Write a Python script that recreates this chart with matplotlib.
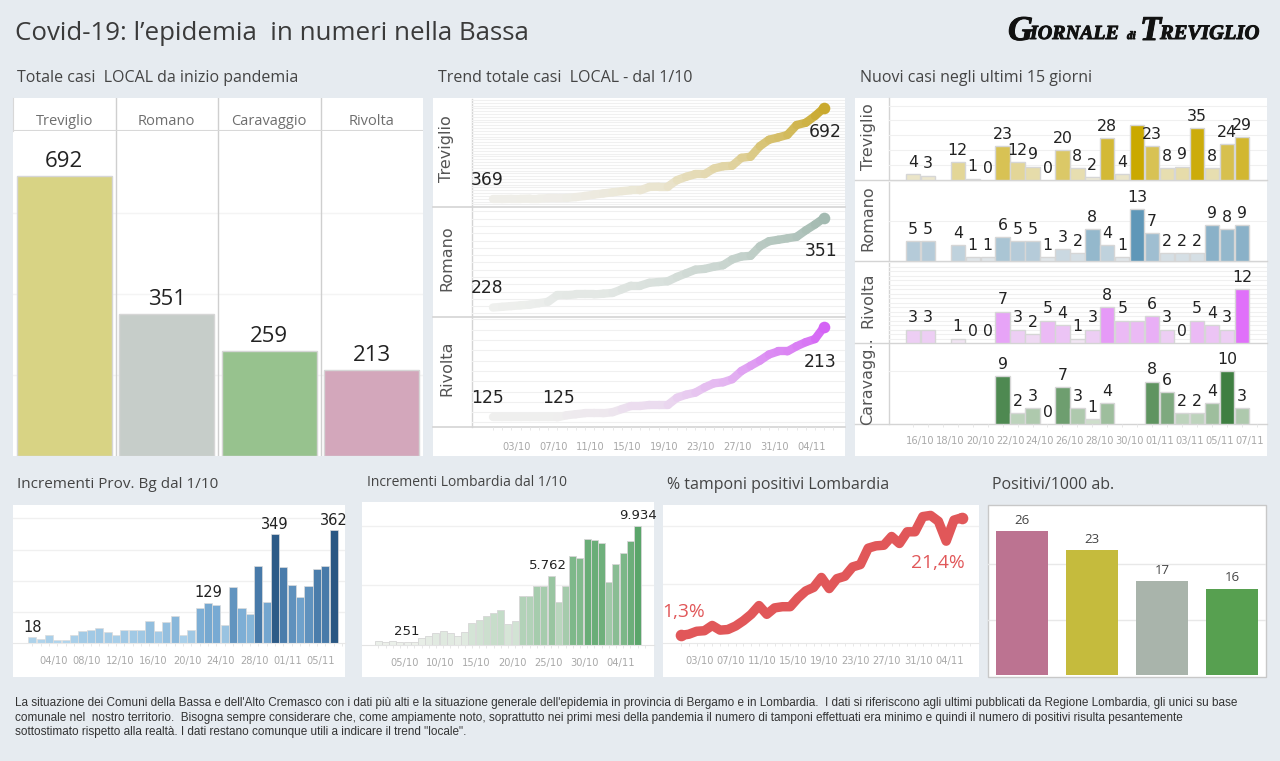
import matplotlib
matplotlib.use("Agg")
import matplotlib.pyplot as plt
import matplotlib.patheffects as pe
from matplotlib.collections import LineCollection
from matplotlib.colors import LinearSegmentedColormap, Normalize
from matplotlib.patches import Rectangle
import numpy as np

W, H = 1280, 761
BG = "#e6ebf0"
GRID = "#f0f0f0"
TICK = "#a8a8a8"
DARK = "#222222"

# totale casi
comuni = ["Treviglio", "Romano", "Caravaggio", "Rivolta"]
totali = [692, 351, 259, 213]
col_totali = ["#d8d384", "#c6cdc9", "#97c28e", "#d3a7bb"]

# trend dal 1/10 (37 giorni)
trend_treviglio = [369, 369, 370, 370, 371, 371, 372, 372, 373, 376, 380, 385, 389, 393, 397, 400, 400,
                   412, 413, 413, 436, 448, 457, 457, 477, 485, 487, 515, 519, 556, 579, 587, 596, 631,
                   639, 663, 692]
trend_romano = [228, 229, 230, 231, 232, 234, 236, 245, 245, 246, 246, 246, 247, 248, 253, 258, 258, 262,
                263, 264, 270, 275, 280, 281, 284, 286, 294, 298, 299, 312, 319, 321, 323, 325, 334,
                342, 351]
trend_rivolta = [125, 125, 125, 125, 125, 125, 125, 125, 127, 128, 129, 129, 129, 130, 133, 136, 136, 137,
                 137, 137, 144, 147, 149, 154, 158, 159, 162, 170, 175, 180, 186, 189, 189, 194, 198,
                 201, 213]
trend_labels = ["03/10", "07/10", "11/10", "15/10", "19/10", "23/10", "27/10", "31/10", "04/11"]

# nuovi casi ultimi giorni
nuovi_date = ["16/10", "18/10", "20/10", "22/10", "24/10", "26/10", "28/10", "30/10", "01/11", "03/11",
              "05/11", "07/11"]
nuovi_treviglio = [4, 3, None, 12, 1, 0, 23, 12, 9, 0, 20, 8, 2, 28, 4, 37, 23, 8, 9, 35, 8, 24, 29]
nuovi_romano = [5, 5, None, 4, 1, 1, 6, 5, 5, 1, 3, 2, 8, 4, 1, 13, 7, 2, 2, 2, 9, 8, 9]
nuovi_rivolta = [3, 3, None, 1, 0, 0, 7, 3, 2, 5, 4, 1, 3, 8, 5, 5, 6, 3, 0, 5, 4, 3, 12]
nuovi_caravaggio = [None, None, None, None, None, None, 9, 2, 3, 0, 7, 3, 1, 4, None, None, 8, 6, 2, 2, 4,
                    10, 3]

# province / regione
inc_bg = [18, 14, 25, 11, 11, 25, 39, 41, 48, 34, 27, 43, 41, 43, 70, 37, 67, 88, 25, 43, 112, 129, 122,
          57, 180, 112, 92, 248, 133, 349, 243, 187, 147, 184, 239, 248, 362]
inc_bg_labels = ["04/10", "08/10", "12/10", "16/10", "20/10", "24/10", "28/10", "01/11", "05/11"]
inc_lomb = [335, 280, 335, 280, 251, 280, 560, 750, 980, 1145, 980, 750, 1060, 1840, 2070, 2430, 2710,
            2900, 1730, 1980, 4100, 4100, 4915, 4915, 5762, 3575, 4970, 7490, 7290, 8910, 8830, 8575,
            5280, 6790, 7680, 8740, 9934]
inc_lomb_labels = ["05/10", "10/10", "15/10", "20/10", "25/10", "30/10", "04/11"]
tamponi = [1.3, 1.5, 2.0, 2.1, 3.0, 2.2, 2.3, 2.9, 3.8, 4.9, 6.4, 4.9, 6.0, 6.2, 6.2, 7.7, 8.9, 9.5, 11.2,
           9.3, 11.0, 11.4, 13.0, 13.4, 16.2, 16.6, 16.7, 18.2, 17.0, 19.0, 19.0, 21.6, 21.8, 20.8, 17.4,
           21.0, 21.4]
tamponi_labels = ["03/10", "07/10", "11/10", "15/10", "19/10", "23/10", "27/10", "31/10", "04/11"]
positivi = [26.0, 22.6, 16.9, 15.6]
col_positivi = ["#bc7391", "#c5bb3d", "#a9b4ab", "#57a050"]

note = ["La situazione dei Comuni della Bassa e dell'Alto Cremasco con i dati più alti e la situazione generale dell'epidemia in provincia di Bergamo e in Lombardia.  I dati si riferiscono agli ultimi pubblicati da Regione Lombardia, gli unici su base",
        "comunale nel  nostro territorio.  Bisogna sempre considerare che, come ampiamente noto, soprattutto nei primi mesi della pandemia il numero di tamponi effettuati era minimo e quindi il numero di positivi risulta pesantemente",
        "sottostimato rispetto alla realtà. I dati restano comunque utili a indicare il trend \"locale\"."]


def ax_px(l, t, r, b):
    ax = fig.add_axes([l / W, 1 - b / H, (r - l) / W, (b - t) / H])
    ax.patch.set_alpha(0)
    for s in ax.spines.values():
        s.set_visible(False)
    ax.tick_params(axis="y", left=False, labelleft=False)
    ax.tick_params(axis="x", bottom=False, labelbottom=False)
    return ax


def ticks_x(ax, pos, labels, pad, n):
    ax.set_xticks(pos)
    ax.set_xticklabels(labels, fontsize=7.1, color=TICK)
    ax.tick_params(axis="x", bottom=False, labelbottom=True, pad=pad)
    ax.set_xticks(np.arange(n), minor=True)
    ax.tick_params(axis="x", which="minor", bottom=True, length=2.5, color="#e8e8e8", width=0.7)


def grad(*colori):
    return LinearSegmentedColormap.from_list("g", list(colori))


fig = plt.figure(figsize=(W / 100, H / 100), dpi=100, facecolor=BG)
bg = fig.add_axes([0, 0, 1, 1])
bg.set_xlim(0, W)
bg.set_ylim(H, 0)
bg.axis("off")

# pannelli bianchi
for l, t, r, b in [(13, 98, 423, 456), (433, 98, 845, 456), (855, 98, 1267, 456), (13, 505, 345, 677),
                   (362, 502, 654, 677), (663, 505, 979, 677)]:
    bg.add_patch(Rectangle((l, t), r - l, b - t, fc="white", ec="none"))
bg.add_patch(Rectangle((988, 505), 278, 172, fc="white", ec="#c8c8c8", lw=1))

# titoli
bg.text(15, 34, "Covid-19: l’epidemia  in numeri nella Bassa", fontsize=18.6, family="Open Sans",
        color="#3a3a3a", va="center")
for x, y, s, fs in [(17, 78, "Totale casi  LOCAL da inizio pandemia", 11.5),
                    (438, 78, "Trend totale casi  LOCAL - dal 1/10", 11.5),
                    (860, 78, "Nuovi casi negli ultimi 15 giorni", 11.5),
                    (17, 485, "Incrementi Prov. Bg dal 1/10", 11),
                    (367, 483, "Incrementi Lombardia dal 1/10", 10),
                    (667, 485, "% tamponi positivi Lombardia", 11.5),
                    (992, 485, "Positivi/1000 ab.", 11.5)]:
    bg.text(x, y, s, fontsize=fs, family="Open Sans", color="#444444", va="center")

# testata
logo = dict(family="Liberation Serif", weight="bold", style="italic", color="#111111", va="baseline",
            path_effects=[pe.withStroke(linewidth=0.7, foreground="#111111")])
bg.text(1008, 40, "G", fontsize=25, **logo)
bg.text(1030, 39, "IORNALE", fontsize=14.4, **logo)
bg.text(1127, 39, "di", fontsize=8, **logo)
bg.text(1140, 40, "T", fontsize=25, **logo)
bg.text(1160, 39, "REVIGLIO", fontsize=14.8, **logo)

# nota
for i, riga in enumerate(note):
    bg.text(15, 703 + i * 14.7, riga, fontsize=8.5, family="Liberation Sans", color="#333333", va="center")

# --- totale casi
ax = ax_px(13, 131, 423, 456)
ax.set_xlim(-0.5, 3.5)
ax.set_ylim(0, 325 / 0.4046)
ax.set_axisbelow(True)
ax.set_yticks([200, 400, 600])
ax.grid(axis="y", color="#f4f4f4", lw=1)
ax.bar(range(4), totali, width=0.93, color=col_totali, edgecolor="#d6d6d6", lw=1)
for i, v in enumerate(totali):
    ax.annotate(str(v), (i, v), xytext=(0, 3), textcoords="offset points", ha="center", va="bottom",
                fontsize=16, family="Open Sans", color=DARK)
for x in [0.5, 1.5, 2.5]:
    ax.axvline(x, color="#cfcfcf", lw=1)
head = ax_px(13, 98, 423, 131)
head.set_xlim(-0.5, 3.5)
head.set_ylim(0, 1)
for i, c in enumerate(comuni):
    head.text(i, 0.28, c, ha="center", va="center", fontsize=10.5, family="Open Sans", color="#6e6e6e")
for x in [0.5, 1.5, 2.5]:
    head.axvline(x, color="#cfcfcf", lw=1)
head.axhline(0, color="#d8d8d8", lw=1.5)
head.spines["left"].set_visible(True)
head.spines["left"].set_color("#d8d8d8")

# --- trend
righe = [("Treviglio", trend_treviglio, (99, 207), (341, 723), 10, "#efeee9", "#c9a92e", (1, -24)),
         ("Romano", trend_romano, (207, 317), (215, 366), 10, "#eff0ee", "#a3bab1", (-2, -30)),
         ("Rivolta", trend_rivolta, (317, 427), (115.6, 222.4), 10, "#efefee", "#d463f5", (-3, -32))]
giorni = np.arange(len(trend_treviglio))
for nome, serie, (t, b), ylim, passo, chiaro, scuro, off in righe:
    ax = ax_px(472, t, 845, b)
    ax.set_xlim(-2.28, 38.26)
    ax.set_ylim(*ylim)
    ax.set_axisbelow(True)
    ax.set_yticks(np.arange(np.ceil(ylim[0] / passo) * passo, ylim[1], passo))
    ax.grid(axis="y", color=GRID, lw=0.8)
    s = np.array(serie, dtype=float)
    pts = np.column_stack([giorni, s])
    segs = np.stack([pts[:-1], pts[1:]], axis=1)
    lc = LineCollection(segs, cmap=grad(chiaro, scuro), norm=Normalize(s.min(), s.max()), linewidths=6,
                        capstyle="round", joinstyle="round")
    lc.set_array((s[:-1] + s[1:]) / 2)
    ax.add_collection(lc)
    ax.scatter(giorni[-1], s[-1], s=70, color=scuro, zorder=3, lw=0)
    ax.annotate(str(serie[0]), (0, serie[0]), xytext=(-4, 10.5), textcoords="offset points", ha="center",
                fontsize=12.3, color=DARK)
    ax.annotate(str(serie[-1]), (36, serie[-1]), xytext=off, textcoords="offset points", ha="center",
                va="bottom", fontsize=12.3, color=DARK)
    bg.text(447, (t + b) / 2 - 4, nome, rotation=90, ha="center", va="center", fontsize=11.5, color="#555555")
    bg.plot([433, 845], [b, b], color="#d4d4d4", lw=1.2)
    if nome == "Rivolta":
        ax.annotate("125", (7, 125), xytext=(1, 10.5), textcoords="offset points", ha="center",
                    fontsize=12.3, color=DARK)
        ticks_x(ax, np.arange(2, 35, 4) + 0.6, trend_labels, 7, 38)
bg.plot([472, 472], [99, 427], color="#d4d4d4", lw=1)

# --- nuovi casi
righe = [("Treviglio", nuovi_treviglio, (98, 180), 82 / 1.49, 10, "#efece0", "#caa900", {15}),
         ("Romano", nuovi_romano, (180, 261), 81 / 4, 10, "#eaeced", "#5f97b8", set()),
         ("Rivolta", nuovi_rivolta, (261, 343), 82 / 4.5, 1, "#f2eef2", "#e070fa", {15}),
         ("Caravagg..", nuovi_caravaggio, (343, 424), 81 / 5.3, 10, "#dde8da", "#3f7f42", set())]
for nome, serie, (t, b), ymax, passo, chiaro, scuro, nascosti in righe:
    ax = ax_px(889, t, 1267, b)
    ax.set_xlim(-1.6, 23.68)
    ax.set_ylim(0, ymax)
    ax.set_axisbelow(True)
    ax.set_yticks(np.arange(passo, ymax, passo))
    ax.grid(axis="y", color=GRID, lw=0.8)
    cm = grad(chiaro, scuro)
    vmax = max(v for v in serie if v is not None)
    for i, v in enumerate(serie):
        if v is None:
            continue
        if v > 0:
            ax.bar(i, v, width=0.96, color=cm(v / vmax), edgecolor="#d6d6d6", lw=1)
        if i not in nascosti:
            ax.annotate(str(v), (i, v), xytext=(0, 3), textcoords="offset points", ha="center", va="bottom",
                        fontsize=11.3, color=DARK, annotation_clip=False)
    bg.text(868, (t + b) / 2 - 2, nome, rotation=90, ha="center", va="center", fontsize=11.5, color="#555555")
    bg.plot([855, 1267], [b, b], color="#d4d4d4", lw=1)
    if nome.startswith("Carav"):
        ticks_x(ax, np.arange(0, 23, 2) + 0.5, nuovi_date, 5.5, 24)
bg.plot([889, 889], [98, 424], color="#d4d4d4", lw=1)

# --- incrementi Bg
ax = ax_px(13, 505, 345, 643)
ax.set_xlim((13 - 32.3) / 8.37, (345 - 32.3) / 8.37)
ax.set_ylim(0, 138 / 0.3113)
ax.set_axisbelow(True)
ax.set_yticks([100, 200, 300, 400])
ax.grid(axis="y", color=GRID, lw=1)
x = np.arange(len(inc_bg))
cm = grad("#b5d8ee", "#79abd3", "#4a7cab", "#2a5783")
ax.bar(x, inc_bg, width=0.97, color=cm(np.array(inc_bg) / max(inc_bg)), edgecolor="#dcdcdc", lw=0.5)
for i in [0, 21, 29, 36]:
    ax.annotate(str(inc_bg[i]), (x[i], inc_bg[i]), xytext=(0, 2), textcoords="offset points", ha="center",
                va="bottom", fontsize=10.5, color=DARK)
ticks_x(ax, np.arange(3, 36, 4) - 0.5, inc_bg_labels, 6, 38)
ax.spines["bottom"].set_visible(True)
ax.spines["bottom"].set_color("#e8e8e8")

# --- incrementi Lombardia
ax = ax_px(362, 502, 654, 645)
ax.set_xlim((362 - 378.3) / 7.2, (654 - 378.3) / 7.2)
ax.set_ylim(0, 143 / 0.01193)
ax.set_axisbelow(True)
ax.set_yticks([5000, 10000])
ax.grid(axis="y", color=GRID, lw=1)
x = np.arange(len(inc_lomb))
cm = grad("#f0f2ee", "#5aa56a")
ax.bar(x, inc_lomb, width=0.97, color=cm(np.array(inc_lomb) / max(inc_lomb)), edgecolor="#d6d6d6", lw=0.6)
for i, s, dx in [(4, "251", 0), (24, "5.762", -2), (36, "9.934", 0)]:
    ax.annotate(s, (x[i], inc_lomb[i]), xytext=(dx, 3), textcoords="offset points", ha="center",
                va="bottom", fontsize=9.5, color=DARK)
ticks_x(ax, np.arange(4, 36, 5) - 0.4, inc_lomb_labels, 6, 38)
ax.spines["bottom"].set_visible(True)
ax.spines["bottom"].set_color("#e3e3e3")

# --- tamponi
ax = ax_px(663, 505, 979, 643)
ax.set_xlim((663 - 681) / 7.8, (979 - 681) / 7.8)
ax.set_ylim(0, 138 / 5.853)
ax.set_axisbelow(True)
ax.set_yticks([10, 20])
ax.grid(axis="y", color=GRID, lw=1)
ax.plot(range(len(tamponi)), tamponi, color="#e15759", lw=6.8, solid_capstyle="round", solid_joinstyle="round")
ax.scatter(0, tamponi[0], s=70, color="#e15759", lw=0, zorder=3)
ax.scatter(36, tamponi[-1], s=70, color="#e15759", lw=0, zorder=3)
ax.annotate("1,3%", (0, tamponi[0]), xytext=(2, 13), textcoords="offset points", ha="center",
            fontsize=13.8, family="Open Sans", color="#e15759")
ax.annotate("21,4%", (36, tamponi[-1]), xytext=(-17, -36), textcoords="offset points", ha="center",
            fontsize=13.8, family="Open Sans", color="#e15759")
ticks_x(ax, np.arange(2, 35, 4) + 0.4, tamponi_labels, 6, 38)
ax.spines["bottom"].set_visible(True)
ax.spines["bottom"].set_color("#e8e8e8")

# --- positivi / 1000
ax = ax_px(988, 505, 1266, 675)
ax.set_xlim(-0.486, 3.486)
ax.set_ylim(0, 170 / 5.54)
ax.set_axisbelow(True)
ax.set_yticks([10, 20])
ax.grid(axis="y", color="#e8e8e8", lw=1)
ax.bar(range(4), positivi, width=0.743, color=col_positivi)
for i, v in enumerate(positivi):
    ax.annotate(str(round(v)), (i, v), xytext=(0, 3), textcoords="offset points", ha="center", va="bottom",
                fontsize=9.5, family="Open Sans", color="#444444")

fig.savefig("out.png", dpi=100, facecolor=BG)
